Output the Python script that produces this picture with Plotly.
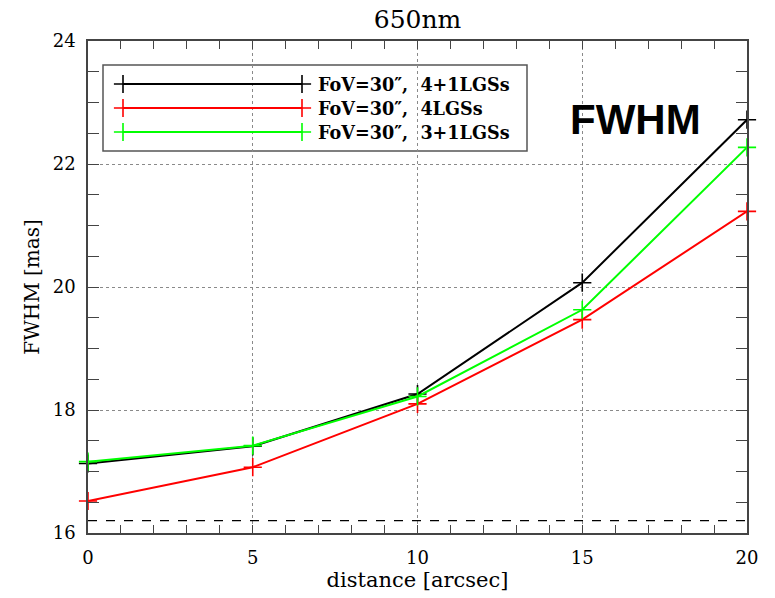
import plotly.graph_objects as go

# ---- data ----
distance = [0, 5, 10, 15, 20]
fwhm_4p1 = [17.13, 17.41, 18.26, 20.07, 22.72]
fwhm_4 = [16.52, 17.07, 18.10, 19.47, 21.23]
fwhm_3p1 = [17.16, 17.42, 18.22, 19.63, 22.27]
diff_limit = [16.2, 16.2]
diff_x = [0, 20]
series_names = ["FoV=30″,  4+1LGSs", "FoV=30″,  4LGSs", "FoV=30″,  3+1LGSs"]
series_colors = ["#000000", "#ff0000", "#00ff00"]
x_ticks = [0, 5, 10, 15, 20]
y_ticks = [16, 18, 20, 22, 24]

W, H = 775, 598
L, R, T, B = 88, 747, 41, 533


def px(x):
    return (x - L) / (R - L)


def py(y):
    return (B - y) / (B - T)


serif = "DejaVu Serif"
fig = go.Figure()

for ys, name, col in zip([fwhm_4p1, fwhm_4, fwhm_3p1], series_names, series_colors):
    fig.add_trace(go.Scatter(x=distance, y=ys, mode="lines+markers", name=name,
                             line=dict(color=col, width=2),
                             marker=dict(symbol="cross-thin", size=13, color=col,
                                         line=dict(width=1.6, color=col)),
                             cliponaxis=False, showlegend=False))

fig.add_trace(go.Scatter(x=diff_x, y=diff_limit, mode="lines",
                         line=dict(color="black", width=1.2, dash="dash"),
                         showlegend=False))

# ---- manual legend (pixel coordinates on an overlay axis) ----
leg_y = [84, 108, 132]
for ly, name, col in zip(leg_y, series_names, series_colors):
    fig.add_trace(go.Scatter(x=[123, 302], y=[ly, ly], xaxis="x2", yaxis="y2",
                             mode="lines+markers", line=dict(color=col, width=2),
                             marker=dict(symbol="cross-thin", size=13, color=col,
                                         line=dict(width=1.6, color=col)),
                             showlegend=False, cliponaxis=False))
    fig.add_annotation(x=px(316), y=py(ly), xref="paper", yref="paper", text=name, showarrow=False,
                       xanchor="left", yanchor="middle",
                       font=dict(family=serif, size=17.6, color="black", weight="bold"))

fig.add_shape(type="rect", xref="paper", yref="paper", x0=px(103), x1=px(527), y0=py(65), y1=py(151),
              line=dict(color="#555555", width=1.5), fillcolor="white", layer="between")

fig.add_annotation(x=px(635), y=py(119), xref="paper", yref="paper", text="<b>FWHM</b>", showarrow=False,
                   xanchor="center", yanchor="middle",
                   font=dict(family="Liberation Sans", size=42, color="black"))

axis_common = dict(showline=True, linecolor="#444444", linewidth=1.5, mirror="ticks",
                   ticks="inside", ticklen=0, showgrid=True, gridcolor="#8a8a8a",
                   griddash="dot", gridwidth=1, zeroline=False,
                   tickfont=dict(family=serif, size=18, color="black"))

fig.update_layout(
    width=W, height=H,
    margin=dict(l=L, r=W - R, t=T, b=H - B),
    paper_bgcolor="white", plot_bgcolor="white",
    title=dict(text="650nm", x=(L + R) / 2 / W, xanchor="center", y=1 - 19 / H, yanchor="middle",
               font=dict(family=serif, size=25, color="black")),
    xaxis=dict(range=[0, 20], tickvals=x_ticks, ticklabelstandoff=8,
               minor=dict(dtick=1, ticks="inside", ticklen=8, tickcolor="#444444", showgrid=False),
               title=dict(text="distance [arcsec]", standoff=2,
                          font=dict(family=serif, size=21, color="black")),
               **axis_common),
    yaxis=dict(range=[16, 24], tickvals=y_ticks, ticklabelstandoff=7,
               minor=dict(dtick=0.5, ticks="inside", ticklen=11, tickcolor="#444444", showgrid=False),
               title=dict(text="FWHM [mas]", standoff=8,
                          font=dict(family=serif, size=20, color="black")),
               **axis_common),
    xaxis2=dict(overlaying="x", range=[L, R], visible=False),
    yaxis2=dict(overlaying="y", range=[B, T], visible=False),
)

fig.write_html("out.html", config={"displayModeBar": False},
               post_script="document.body.style.margin='0';")
